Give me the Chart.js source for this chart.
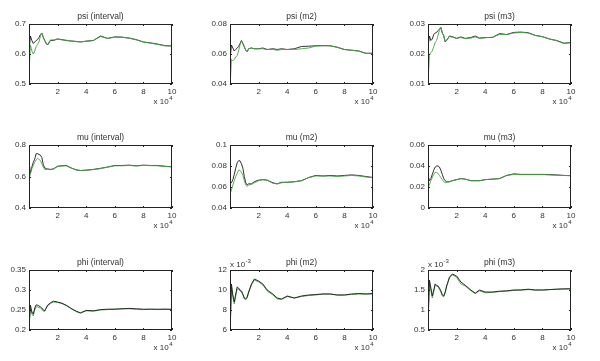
<!DOCTYPE html>
<html>
<head>
<meta charset="utf-8">
<script src="https://cdn.jsdelivr.net/npm/chart.js"></script>
<style>
html, body { margin: 0; padding: 0; background: #fff; }
body { width: 600px; height: 361px; position: relative; overflow: hidden; }
.cell { position: absolute; width: 200px; height: 120px; }
</style>
</head>
<body>
<script>
// iterations, in units of 10^4
const iterations = [0.02, 0.1, 0.2, 0.3, 0.4, 0.5, 0.6, 0.7, 0.8, 0.9, 1.0, 1.1, 1.2, 1.3, 1.5, 1.7, 2.0, 2.3, 2.6, 3.0, 3.3, 3.6, 4.0, 4.5, 5.0, 5.5, 6.0, 6.5, 7.0, 7.5, 8.0, 8.5, 9.0, 9.5, 10];
const xTicks = [2, 4, 6, 8, 10];

const psiIntervalBlack = [0.62, 0.66, 0.645, 0.635, 0.64, 0.645, 0.648, 0.655, 0.665, 0.67, 0.655, 0.645, 0.635, 0.63, 0.645, 0.645, 0.65, 0.648, 0.645, 0.643, 0.642, 0.64, 0.643, 0.645, 0.66, 0.652, 0.657, 0.656, 0.653, 0.648, 0.64, 0.637, 0.633, 0.628, 0.627];
const psiIntervalGreen = [0.555, 0.63, 0.61, 0.6, 0.61, 0.625, 0.632, 0.64, 0.66, 0.67, 0.655, 0.645, 0.637, 0.632, 0.647, 0.647, 0.65, 0.647, 0.646, 0.643, 0.641, 0.641, 0.642, 0.645, 0.658, 0.652, 0.656, 0.656, 0.653, 0.647, 0.64, 0.636, 0.632, 0.627, 0.627];
const psiIntervalTicks = [0.5, 0.6, 0.7];

const psiM2Black = [0.058, 0.066, 0.064, 0.062, 0.063, 0.064, 0.065, 0.067, 0.069, 0.067, 0.065, 0.0625, 0.0615, 0.0635, 0.064, 0.0635, 0.0635, 0.064, 0.063, 0.0635, 0.063, 0.0635, 0.063, 0.0635, 0.065, 0.0652, 0.0655, 0.0656, 0.0655, 0.0645, 0.063, 0.0625, 0.062, 0.0605, 0.0605];
const psiM2Green = [0.041, 0.0565, 0.0555, 0.0565, 0.058, 0.059, 0.062, 0.066, 0.069, 0.0665, 0.0645, 0.0625, 0.0615, 0.0635, 0.064, 0.0635, 0.0635, 0.0635, 0.063, 0.063, 0.0625, 0.063, 0.063, 0.063, 0.0635, 0.064, 0.0653, 0.0655, 0.0655, 0.0645, 0.063, 0.0625, 0.062, 0.0603, 0.0605];
const psiM2Ticks = [0.04, 0.06, 0.08];

const psiM3Black = [0.023, 0.026, 0.0245, 0.025, 0.0265, 0.027, 0.0272, 0.0278, 0.0283, 0.0288, 0.027, 0.0262, 0.024, 0.0245, 0.026, 0.0258, 0.0252, 0.0257, 0.0252, 0.0255, 0.026, 0.0253, 0.0255, 0.0255, 0.0268, 0.0265, 0.0272, 0.0273, 0.0271, 0.0262, 0.0258, 0.025, 0.0245, 0.0236, 0.0238];
const psiM3Green = [0.0125, 0.0195, 0.0205, 0.021, 0.0225, 0.0238, 0.0245, 0.0262, 0.0278, 0.029, 0.027, 0.026, 0.0242, 0.0246, 0.0258, 0.0256, 0.0252, 0.0255, 0.0251, 0.0253, 0.0257, 0.0252, 0.0254, 0.0256, 0.0265, 0.0265, 0.027, 0.0272, 0.027, 0.0262, 0.0257, 0.025, 0.0244, 0.0235, 0.0238];
const psiM3Ticks = [0.01, 0.02, 0.03];

const muIntervalBlack = [0.68, 0.62, 0.66, 0.69, 0.71, 0.745, 0.745, 0.74, 0.735, 0.72, 0.675, 0.655, 0.65, 0.648, 0.645, 0.648, 0.665, 0.668, 0.67, 0.652, 0.642, 0.638, 0.64, 0.645, 0.652, 0.66, 0.67, 0.67, 0.672, 0.668, 0.672, 0.67, 0.67, 0.665, 0.662];
const muIntervalGreen = [0.59, 0.62, 0.65, 0.67, 0.69, 0.705, 0.715, 0.71, 0.7, 0.68, 0.66, 0.645, 0.645, 0.645, 0.643, 0.648, 0.663, 0.667, 0.668, 0.652, 0.642, 0.638, 0.64, 0.644, 0.65, 0.66, 0.668, 0.668, 0.67, 0.667, 0.67, 0.669, 0.668, 0.664, 0.661];
const muIntervalTicks = [0.4, 0.6, 0.8];

const muM2Black = [0.063, 0.064, 0.067, 0.072, 0.078, 0.083, 0.085, 0.085, 0.082, 0.078, 0.07, 0.064, 0.062, 0.063, 0.063, 0.065, 0.0665, 0.067, 0.0665, 0.064, 0.063, 0.0645, 0.0645, 0.065, 0.066, 0.069, 0.071, 0.0705, 0.071, 0.0705, 0.071, 0.0715, 0.071, 0.07, 0.069];
const muM2Green = [0.054, 0.057, 0.062, 0.066, 0.07, 0.073, 0.076, 0.076, 0.074, 0.071, 0.066, 0.062, 0.0605, 0.062, 0.0625, 0.064, 0.066, 0.067, 0.0665, 0.0635, 0.063, 0.064, 0.0645, 0.065, 0.066, 0.069, 0.0705, 0.0705, 0.0705, 0.07, 0.0705, 0.071, 0.0705, 0.0695, 0.069];
const muM2Ticks = [0.04, 0.06, 0.08, 0.1];

const muM3Black = [0.03, 0.026, 0.028, 0.032, 0.036, 0.039, 0.04, 0.04, 0.039, 0.036, 0.032, 0.028, 0.026, 0.025, 0.025, 0.026, 0.027, 0.028, 0.0275, 0.026, 0.026, 0.026, 0.027, 0.0275, 0.028, 0.031, 0.0325, 0.032, 0.032, 0.032, 0.032, 0.0318, 0.0315, 0.031, 0.0308];
const muM3Green = [0.02, 0.022, 0.026, 0.029, 0.032, 0.034, 0.034, 0.033, 0.031, 0.029, 0.027, 0.025, 0.024, 0.0245, 0.025, 0.026, 0.027, 0.028, 0.0275, 0.026, 0.026, 0.026, 0.027, 0.0275, 0.028, 0.031, 0.032, 0.0318, 0.0318, 0.0318, 0.0318, 0.0315, 0.0312, 0.031, 0.0308];
const muM3Ticks = [0, 0.02, 0.04, 0.06];

const phiIntervalBlack = [0.22, 0.262, 0.245, 0.24, 0.255, 0.263, 0.262, 0.26, 0.258, 0.255, 0.25, 0.248, 0.255, 0.262, 0.268, 0.272, 0.27, 0.267, 0.262, 0.253, 0.247, 0.243, 0.249, 0.248, 0.251, 0.252, 0.252, 0.253, 0.254, 0.253, 0.252, 0.252, 0.252, 0.252, 0.252];
const phiIntervalGreen = [0.215, 0.255, 0.24, 0.235, 0.25, 0.258, 0.258, 0.256, 0.255, 0.252, 0.247, 0.247, 0.254, 0.26, 0.266, 0.27, 0.269, 0.266, 0.261, 0.252, 0.246, 0.242, 0.248, 0.247, 0.25, 0.251, 0.252, 0.253, 0.253, 0.252, 0.251, 0.252, 0.251, 0.252, 0.251];
const phiIntervalTicks = [0.2, 0.25, 0.3, 0.35];

// phi (m2) and phi (m3) are in units of 10^-3
const phiM2Black = [6.5, 10.6, 9.5, 8.8, 9.6, 10.3, 10.2, 10.0, 9.9, 9.6, 9.2, 9.1, 9.3, 9.8, 10.6, 11.1, 10.9, 10.6, 10.0, 9.6, 9.2, 9.1, 9.4, 9.2, 9.4, 9.5, 9.55, 9.6, 9.6, 9.5, 9.5, 9.6, 9.65, 9.6, 9.65];
const phiM2Green = [6.3, 10.3, 9.3, 8.6, 9.4, 10.1, 10.1, 9.9, 9.8, 9.5, 9.1, 9.05, 9.2, 9.7, 10.5, 11.0, 10.8, 10.5, 9.9, 9.5, 9.1, 9.05, 9.35, 9.2, 9.35, 9.45, 9.5, 9.6, 9.6, 9.5, 9.5, 9.55, 9.6, 9.6, 9.6];
const phiM2Ticks = [6, 8, 10, 12];

const phiM3Black = [0.9, 1.75, 1.55, 1.35, 1.5, 1.65, 1.62, 1.6, 1.55, 1.48, 1.38, 1.35, 1.45, 1.6, 1.82, 1.9, 1.85, 1.7, 1.62, 1.5, 1.42, 1.5, 1.45, 1.45, 1.47, 1.48, 1.5, 1.5, 1.52, 1.5, 1.5, 1.51, 1.52, 1.53, 1.53];
const phiM3Green = [0.85, 1.7, 1.5, 1.3, 1.45, 1.62, 1.6, 1.58, 1.52, 1.45, 1.35, 1.33, 1.42, 1.58, 1.8, 1.88, 1.82, 1.65, 1.6, 1.48, 1.41, 1.48, 1.43, 1.44, 1.46, 1.47, 1.49, 1.5, 1.51, 1.5, 1.5, 1.51, 1.52, 1.52, 1.53];
const phiM3Ticks = [0.5, 1, 1.5, 2];

const titles = ['psi (interval)', 'psi (m2)', 'psi (m3)', 'mu (interval)', 'mu (m2)', 'mu (m3)', 'phi (interval)', 'phi (m2)', 'phi (m3)'];
const blackSeries = [psiIntervalBlack, psiM2Black, psiM3Black, muIntervalBlack, muM2Black, muM3Black, phiIntervalBlack, phiM2Black, phiM3Black];
const greenSeries = [psiIntervalGreen, psiM2Green, psiM3Green, muIntervalGreen, muM2Green, muM3Green, phiIntervalGreen, phiM2Green, phiM3Green];
const yTickSets = [psiIntervalTicks, psiM2Ticks, psiM3Ticks, muIntervalTicks, muM2Ticks, muM3Ticks, phiIntervalTicks, phiM2Ticks, phiM3Ticks];
const yExponents = [null, null, null, null, null, null, null, '-3', '-3'];

// plot box positions on the page
const colLeft = [29, 230, 428];
const rowTop = [24, 145, 270];
const rowHeight = [60, 63, 60];
const boxWidth = 143;

const FONT = '"Liberation Sans", Arial, sans-serif';
const TEXT = '#333';

const framePlugin = {
    id: 'frame',
    afterDraw(chart, args, opts) {
        const ctx = chart.ctx;
        const a = chart.chartArea;
        const xs = chart.scales.x;
        const ys = chart.scales.y;
        ctx.save();
        ctx.strokeStyle = '#222';
        ctx.lineWidth = 1;
        ctx.strokeRect(a.left + 0.5, a.top + 0.5, a.right - a.left - 1, a.bottom - a.top - 1);
        ctx.beginPath();
        xs.ticks.forEach(t => {
            const px = Math.round(xs.getPixelForValue(t.value)) + 0.5;
            ctx.moveTo(px, a.bottom); ctx.lineTo(px, a.bottom - 2);
            ctx.moveTo(px, a.top); ctx.lineTo(px, a.top + 2);
        });
        ys.ticks.forEach(t => {
            const py = Math.round(ys.getPixelForValue(t.value)) + 0.5;
            ctx.moveTo(a.left, py); ctx.lineTo(a.left + 2, py);
            ctx.moveTo(a.right, py); ctx.lineTo(a.right - 2, py);
        });
        ctx.stroke();

        ctx.fillStyle = TEXT;
        ctx.font = '8.5px ' + FONT;
        ctx.textBaseline = 'alphabetic';
        ctx.textAlign = 'center';
        ctx.fillText(opts.title, (a.left + a.right) / 2, a.top - 5);

        // x 10^4 under the right end of the x axis
        ctx.textAlign = 'left';
        ctx.font = '8px ' + FONT;
        let w1 = ctx.measureText('x 10').width;
        ctx.font = '6px ' + FONT;
        let w2 = ctx.measureText('4').width;
        let x0 = a.right - w1 - w2;
        ctx.font = '8px ' + FONT;
        ctx.fillText('x 10', x0, a.bottom + 20);
        ctx.font = '6px ' + FONT;
        ctx.fillText('4', x0 + w1 + 0.5, a.bottom + 16);

        if (opts.exponent) {
            ctx.font = '8px ' + FONT;
            ctx.fillText('x 10', a.left, a.top - 3);
            let w = ctx.measureText('x 10').width;
            ctx.font = '6px ' + FONT;
            ctx.fillText(opts.exponent, a.left + w + 0.5, a.top - 7);
        }
        ctx.restore();
    }
};

function fmt(v) {
    return String(+Number(v).toFixed(4));
}

function createPanel(i) {
    const row = Math.floor(i / 3);
    const col = i % 3;
    const h = rowHeight[row];
    const div = document.createElement('div');
    div.className = 'cell';
    div.style.left = (colLeft[col] - 40) + 'px';
    div.style.top = (rowTop[row] - 30) + 'px';
    const canvas = document.createElement('canvas');
    canvas.width = 200;
    canvas.height = 120;
    div.appendChild(canvas);
    document.body.appendChild(div);

    const yTicks = yTickSets[i];
    // green sits on top in the psi and mu rows, black on top in the phi row
    const greenOnTop = row < 2;

    new Chart(canvas.getContext('2d'), {
        type: 'line',
        data: {
            datasets: [{
                label: 'chain 1',
                data: iterations.map((x, k) => ({ x: x, y: blackSeries[i][k] })),
                borderColor: '#1a1a1a',
                borderWidth: 0.9,
                pointRadius: 0,
                tension: 0,
                order: greenOnTop ? 2 : 1
            }, {
                label: 'chain 2',
                data: iterations.map((x, k) => ({ x: x, y: greenSeries[i][k] })),
                borderColor: '#4aa34a',
                borderWidth: 0.9,
                pointRadius: 0,
                tension: 0,
                order: greenOnTop ? 1 : 2
            }]
        },
        options: {
            responsive: false,
            animation: false,
            events: [],
            layout: { padding: { left: 8, right: 200 - 40 - boxWidth, top: 30, bottom: 120 - 30 - h - 14 } },
            plugins: {
                legend: { display: false },
                tooltip: { enabled: false },
                frame: { title: titles[i], exponent: yExponents[i] }
            },
            scales: {
                x: {
                    type: 'linear',
                    min: 0,
                    max: 10,
                    grid: { display: false, drawTicks: false },
                    border: { display: false },
                    afterBuildTicks: s => { s.ticks = xTicks.map(v => ({ value: v })); },
                    afterFit: s => { s.height = 14; },
                    ticks: { padding: 3, color: TEXT, font: { size: 8, family: FONT }, maxRotation: 0, callback: fmt }
                },
                y: {
                    min: yTicks[0],
                    max: yTicks[yTicks.length - 1],
                    grid: { display: false, drawTicks: false },
                    border: { display: false },
                    afterBuildTicks: s => { s.ticks = yTicks.map(v => ({ value: v })); },
                    afterFit: s => { s.width = 32; },
                    ticks: { padding: 3, color: TEXT, font: { size: 8, family: FONT }, callback: fmt }
                }
            }
        },
        plugins: [framePlugin]
    });
}

for (let i = 0; i < 9; i++) {
    createPanel(i);
}
</script>
</body>
</html>
